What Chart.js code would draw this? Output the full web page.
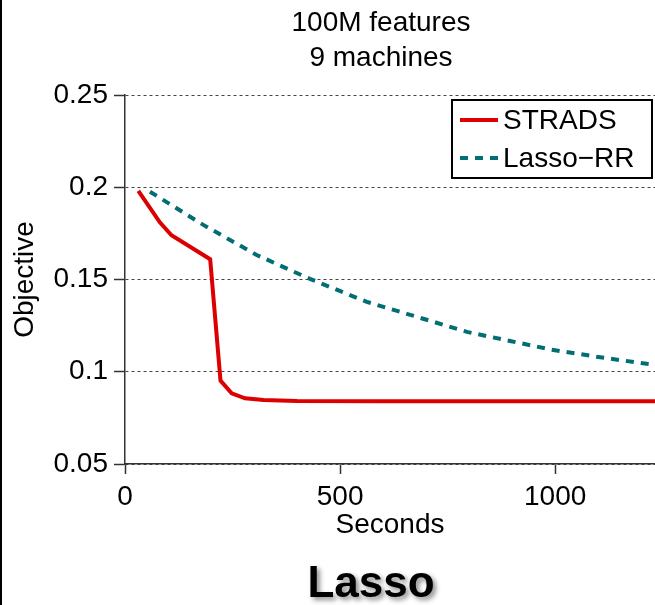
<!DOCTYPE html>
<html>
<head>
<meta charset="utf-8">
<script src="https://cdn.jsdelivr.net/npm/chart.js@4/dist/chart.umd.min.js"></script>
<style>
  html, body { margin: 0; padding: 0; background: #fff; }
  canvas { display: block; }
</style>
</head>
<body>
<canvas id="chart" width="655" height="605"></canvas>
<script>
// Data
var titleLines = ['100M features', '9 machines'];
var xTicks = [0, 500, 1000];
var yTicks = [0.05, 0.1, 0.15, 0.2, 0.25];

var stradsSec = [31, 81, 108, 198, 222, 248, 279, 322, 400, 600, 900, 1232];
var stradsObj = [0.198, 0.181, 0.174, 0.161, 0.0952, 0.0883, 0.0856, 0.0847, 0.0842, 0.0840, 0.0840, 0.0840];

var lassoSec = [58, 182, 306, 430, 562, 655, 795, 895, 988, 1100, 1213, 1232];
var lassoObj = [0.1976, 0.1796, 0.1633, 0.1503, 0.1379, 0.1314, 0.1216, 0.1167, 0.1121, 0.108, 0.1043, 0.1038];

var FONT = "'Liberation Sans', Arial, Helvetica, sans-serif";

function toPoints(xs, ys) {
  return xs.map(function(x, i) { return {x: x, y: ys[i]}; });
}

// Title, legend box, left frame line and the "Lasso" caption
var decor = {
  id: 'decor',
  beforeDraw: function(chart) {
    var ctx = chart.ctx;
    ctx.save();
    ctx.fillStyle = '#fff';
    ctx.fillRect(0, 0, chart.width, chart.height);
    ctx.fillStyle = '#000';
    ctx.fillRect(0, 0, 2, chart.height);
    ctx.restore();
  },
  afterDraw: function(chart) {
    var ctx = chart.ctx;
    ctx.save();
    ctx.fillStyle = '#000';
    ctx.font = '28px ' + FONT;
    ctx.textAlign = 'center';
    ctx.textBaseline = 'middle';
    titleLines.forEach(function(t, i) { ctx.fillText(t, 381, 23 + i * 35); });

    // legend
    ctx.fillStyle = '#fff';
    ctx.fillRect(452, 100, 200, 78);
    ctx.strokeStyle = '#000';
    ctx.lineWidth = 2;
    ctx.strokeRect(452, 100, 200, 78);
    ctx.textAlign = 'left';
    chart.data.datasets.forEach(function(ds, i) {
      var y = 120 + i * 38;
      ctx.beginPath();
      ctx.setLineDash(ds.borderDash || []);
      ctx.strokeStyle = ds.borderColor;
      ctx.lineWidth = ds.borderWidth;
      ctx.moveTo(460, y);
      ctx.lineTo(498, y);
      ctx.stroke();
      ctx.setLineDash([]);
      ctx.fillStyle = '#000';
      ctx.fillText(ds.label, 503, y + 1);
    });

    // caption
    ctx.font = 'bold 44px ' + FONT;
    ctx.textAlign = 'center';
    ctx.shadowColor = 'rgba(0,0,0,0.45)';
    ctx.shadowOffsetX = 3;
    ctx.shadowOffsetY = 3;
    ctx.shadowBlur = 5;
    ctx.fillText('Lasso', 371, 585);
    ctx.restore();
  }
};

var chart = new Chart(document.getElementById('chart').getContext('2d'), {
  type: 'line',
  data: {
    datasets: [{
      label: 'STRADS',
      data: toPoints(stradsSec, stradsObj),
      borderColor: '#dd0000',
      borderWidth: 4,
      pointRadius: 0,
      fill: false
    }, {
      label: 'Lasso\u2212RR',
      data: toPoints(lassoSec, lassoObj),
      borderColor: '#006e72',
      borderWidth: 4,
      borderDash: [8, 7],
      pointRadius: 0,
      fill: false
    }]
  },
  options: {
    responsive: false,
    animation: false,
    devicePixelRatio: 1,
    layout: { padding: { top: 95, left: 0, right: 0, bottom: 0 } },
    plugins: { legend: { display: false }, tooltip: { enabled: false } },
    scales: {
      x: {
        type: 'linear',
        min: 0,
        max: 1232,
        afterBuildTicks: function(s) { s.ticks = xTicks.map(function(v) { return {value: v}; }); },
        afterFit: function(s) { s.height = 141; },
        ticks: {
          color: '#000', font: { family: FONT, size: 28 }, padding: 6, maxRotation: 0,
          callback: function(v) { return String(v); }
        },
        grid: { drawOnChartArea: false, drawTicks: true, tickLength: 10, tickColor: '#333', tickWidth: 1.5 },
        border: { display: true, color: '#333', width: 1.5 },
        title: { display: true, text: 'Seconds', color: '#000', font: { family: FONT, size: 28 }, padding: { top: 0, bottom: 63 } }
      },
      y: {
        min: 0.05,
        max: 0.25,
        afterBuildTicks: function(s) { s.ticks = yTicks.map(function(v) { return {value: v}; }); },
        afterFit: function(s) { s.width = 125; },
        ticks: {
          color: '#000', font: { family: FONT, size: 28 }, padding: 6,
          callback: function(v) { return String(+v.toFixed(2)); }
        },
        grid: { color: '#444', lineWidth: 1, tickLength: 11, tickColor: '#333', tickWidth: 1.5 },
        border: { display: true, color: '#333', width: 1.5, dash: [3, 3] },
        title: { display: true, text: 'Objective', color: '#000', font: { family: FONT, size: 28 }, padding: { top: 8, bottom: 0 } }
      }
    }
  },
  plugins: [decor]
});
</script>
</body>
</html>
